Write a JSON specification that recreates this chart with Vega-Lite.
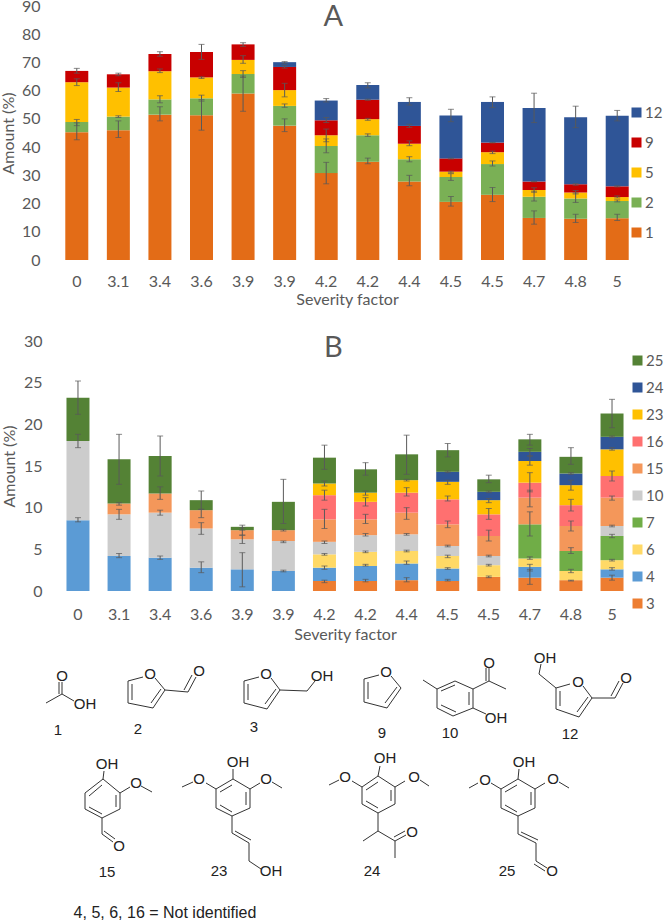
{"$schema":"https://vega.github.io/schema/vega-lite/v6.json","background":"white","padding":{"left":0,"top":-2,"right":0,"bottom":0},"spacing":81,"bounds":"flush",
"resolve":{"scale":{"color":"independent"},"legend":{"color":"independent"}},
"config":{"view":{"stroke":null},"font":"Lato"},
"datasets":{
"a":[
{"i":0,"c":1,"v":45.3,"lo":42.6,"hi":48.6},{"i":0,"c":2,"v":3.6,"lo":47.6,"hi":49.8},{"i":0,"c":5,"v":14.1,"lo":61.8,"hi":64.2},{"i":0,"c":9,"v":4,"lo":66.2,"hi":67.9},
{"i":1,"c":1,"v":46,"lo":43.4,"hi":49.3},{"i":1,"c":2,"v":4.8,"lo":50.5,"hi":51.1},{"i":1,"c":5,"v":10.3,"lo":59.7,"hi":62.8},{"i":1,"c":9,"v":4.7,"lo":65.3,"hi":66.2},
{"i":2,"c":1,"v":51.5,"lo":49.3,"hi":54.3},{"i":2,"c":2,"v":5.4,"lo":55.7,"hi":58.2},{"i":2,"c":5,"v":10,"lo":66.4,"hi":67.7},{"i":2,"c":9,"v":6.1,"lo":72.2,"hi":73.8},
{"i":3,"c":1,"v":51.3,"lo":46,"hi":56.8},{"i":3,"c":2,"v":6,"lo":56.3,"hi":58.4},{"i":3,"c":5,"v":7.4,"lo":64.3,"hi":64.9},{"i":3,"c":9,"v":9,"lo":71.1,"hi":76.4},
{"i":4,"c":1,"v":59,"lo":52.7,"hi":65.2},{"i":4,"c":2,"v":6.9,"lo":64.7,"hi":67.1},{"i":4,"c":5,"v":5,"lo":69.7,"hi":72.4},{"i":4,"c":9,"v":5.5,"lo":75.7,"hi":77},
{"i":5,"c":1,"v":47.6,"lo":45.5,"hi":50},{"i":5,"c":2,"v":7,"lo":54.1,"hi":55.3},{"i":5,"c":5,"v":5.6,"lo":57.8,"hi":62.6},{"i":5,"c":9,"v":8.2,"lo":68,"hi":69},{"i":5,"c":12,"v":1.7,"lo":69.7,"hi":70.3},
{"i":6,"c":1,"v":30.8,"lo":27,"hi":34.6},{"i":6,"c":2,"v":9.6,"lo":38,"hi":42.9},{"i":6,"c":5,"v":3.8,"lo":41.9,"hi":46.4},{"i":6,"c":9,"v":5.3,"lo":48.7,"hi":50.5},{"i":6,"c":12,"v":7,"lo":56,"hi":57.2},
{"i":7,"c":1,"v":34.8,"lo":34.1,"hi":36.1},{"i":7,"c":2,"v":9.4,"lo":43.8,"hi":44.7},{"i":7,"c":5,"v":5.7,"lo":49.5,"hi":50.2},{"i":7,"c":9,"v":6.9,"lo":56.6,"hi":57},{"i":7,"c":12,"v":5.2,"lo":61,"hi":62.8},
{"i":8,"c":1,"v":27.8,"lo":26.3,"hi":30},{"i":8,"c":2,"v":7.9,"lo":34.8,"hi":36.6},{"i":8,"c":5,"v":5.5,"lo":40.5,"hi":42.2},{"i":8,"c":9,"v":6.3,"lo":47,"hi":48.1},{"i":8,"c":12,"v":8.5,"lo":54.9,"hi":57.5},
{"i":9,"c":1,"v":20.6,"lo":19.1,"hi":22.5},{"i":9,"c":2,"v":8.8,"lo":28.2,"hi":30.6},{"i":9,"c":5,"v":1.9,"lo":30.9,"hi":31.5},{"i":9,"c":9,"v":4.7,"lo":35.8,"hi":36.1},{"i":9,"c":12,"v":15.2,"lo":49,"hi":53.4},
{"i":10,"c":1,"v":23.1,"lo":20.7,"hi":25.7},{"i":10,"c":2,"v":10.9,"lo":33.3,"hi":35.1},{"i":10,"c":5,"v":4.2,"lo":37.7,"hi":38.6},{"i":10,"c":9,"v":3.4,"lo":41.5,"hi":41.7},{"i":10,"c":12,"v":14.4,"lo":54,"hi":57.8},
{"i":11,"c":1,"v":14.9,"lo":12.7,"hi":17.4},{"i":11,"c":2,"v":7.5,"lo":20.9,"hi":24.4},{"i":11,"c":5,"v":2.4,"lo":24,"hi":25.6},{"i":11,"c":9,"v":3,"lo":27.7,"hi":27.9},{"i":11,"c":12,"v":26.1,"lo":48.7,"hi":59.1},
{"i":12,"c":1,"v":14.6,"lo":13.3,"hi":16.2},{"i":12,"c":2,"v":7.2,"lo":20.4,"hi":23.8},{"i":12,"c":5,"v":2.1,"lo":23.4,"hi":24.6},{"i":12,"c":9,"v":2.9,"lo":26.5,"hi":27.1},{"i":12,"c":12,"v":23.8,"lo":46.9,"hi":54.5},
{"i":13,"c":1,"v":14.8,"lo":14,"hi":16.2},{"i":13,"c":2,"v":6.1,"lo":20.6,"hi":21.3},{"i":13,"c":5,"v":1.4,"lo":22,"hi":22.7},{"i":13,"c":9,"v":3.8,"lo":25.9,"hi":26.3},{"i":13,"c":12,"v":25,"lo":49.3,"hi":53}
],
"b":[
{"i":0,"c":4,"v":8.5,"lo":8.3,"hi":8.8},{"i":0,"c":10,"v":9.5,"lo":17.2,"hi":18.8},{"i":0,"c":25,"v":5.2,"lo":21.2,"hi":25.2},
{"i":1,"c":4,"v":4.2,"lo":4,"hi":4.5},{"i":1,"c":10,"v":5,"lo":8.6,"hi":9.8},{"i":1,"c":15,"v":1.3,"lo":10.3,"hi":10.6},{"i":1,"c":25,"v":5.3,"lo":12.8,"hi":18.8},
{"i":2,"c":4,"v":4,"lo":3.8,"hi":4.2},{"i":2,"c":10,"v":5.4,"lo":9.1,"hi":9.7},{"i":2,"c":15,"v":2.3,"lo":11,"hi":12.5},{"i":2,"c":25,"v":4.5,"lo":13.8,"hi":18.6},
{"i":3,"c":4,"v":2.8,"lo":2.2,"hi":3.5},{"i":3,"c":10,"v":4.7,"lo":6.8,"hi":8.2},{"i":3,"c":15,"v":2.2,"lo":8.8,"hi":9.8},{"i":3,"c":25,"v":1.2,"lo":9.8,"hi":12},
{"i":4,"c":4,"v":2.6,"lo":0.5,"hi":4.6},{"i":4,"c":10,"v":3.6,"lo":5.7,"hi":6.7},{"i":4,"c":15,"v":1.1,"lo":6.7,"hi":7.6},{"i":4,"c":25,"v":0.4,"lo":7.3,"hi":7.9},
{"i":5,"c":4,"v":2.4,"lo":2.3,"hi":2.5},{"i":5,"c":10,"v":3.6,"lo":5.8,"hi":6},{"i":5,"c":15,"v":1.3,"lo":7.2,"hi":7.4},{"i":5,"c":25,"v":3.4,"lo":8.1,"hi":13.4},
{"i":6,"c":3,"v":1.2,"lo":1,"hi":1.3},{"i":6,"c":4,"v":1.6,"lo":2.6,"hi":3},{"i":6,"c":6,"v":1.6,"lo":4.3,"hi":4.5},{"i":6,"c":10,"v":1.5,"lo":5.7,"hi":6},{"i":6,"c":15,"v":2.7,"lo":7.5,"hi":9.8},{"i":6,"c":16,"v":2.9,"lo":10.9,"hi":12.1},{"i":6,"c":23,"v":1.4,"lo":12.6,"hi":13.2},{"i":6,"c":25,"v":3.1,"lo":14.6,"hi":17.5},
{"i":7,"c":3,"v":1.2,"lo":1.1,"hi":1.4},{"i":7,"c":4,"v":1.8,"lo":3,"hi":3.2},{"i":7,"c":6,"v":1.7,"lo":4.6,"hi":4.8},{"i":7,"c":10,"v":2,"lo":6.6,"hi":6.9},{"i":7,"c":15,"v":1.9,"lo":8.1,"hi":9.2},{"i":7,"c":16,"v":2.1,"lo":10.2,"hi":11.2},{"i":7,"c":23,"v":1.1,"lo":11.5,"hi":12},{"i":7,"c":25,"v":2.8,"lo":13.9,"hi":15.4},
{"i":8,"c":3,"v":1.3,"lo":1.1,"hi":1.6},{"i":8,"c":4,"v":2,"lo":3.2,"hi":3.6},{"i":8,"c":6,"v":1.5,"lo":4.7,"hi":4.9},{"i":8,"c":10,"v":2,"lo":6.7,"hi":6.9},{"i":8,"c":15,"v":2.6,"lo":8.6,"hi":10},{"i":8,"c":16,"v":2.4,"lo":11.4,"hi":12.4},{"i":8,"c":23,"v":1.5,"lo":13.2,"hi":13.4},{"i":8,"c":25,"v":3.1,"lo":14,"hi":18.7},
{"i":9,"c":3,"v":1.2,"lo":1.2,"hi":1.4},{"i":9,"c":4,"v":1.5,"lo":2.6,"hi":2.8},{"i":9,"c":6,"v":1.5,"lo":4,"hi":4.3},{"i":9,"c":10,"v":1.2,"lo":5.3,"hi":5.5},{"i":9,"c":15,"v":2.6,"lo":7.6,"hi":8.4},{"i":9,"c":16,"v":3,"lo":10.8,"hi":11.4},{"i":9,"c":23,"v":2.1,"lo":12.8,"hi":13.3},{"i":9,"c":24,"v":1.2,"lo":14.2,"hi":14.4},{"i":9,"c":25,"v":2.6,"lo":16.1,"hi":17.7},
{"i":10,"c":3,"v":1.7,"lo":1.6,"hi":1.8},{"i":10,"c":6,"v":1.4,"lo":3,"hi":3.2},{"i":10,"c":10,"v":1.1,"lo":4.1,"hi":4.3},{"i":10,"c":15,"v":2.4,"lo":6,"hi":7.3},{"i":10,"c":16,"v":2.6,"lo":8.6,"hi":9.9},{"i":10,"c":23,"v":1.7,"lo":10.6,"hi":11.1},{"i":10,"c":24,"v":1,"lo":11.8,"hi":12},{"i":10,"c":25,"v":1.5,"lo":13,"hi":13.9},
{"i":11,"c":3,"v":1.6,"lo":0.8,"hi":2.6},{"i":11,"c":4,"v":1.3,"lo":2.4,"hi":3.2},{"i":11,"c":6,"v":1,"lo":3.8,"hi":4.1},{"i":11,"c":7,"v":4.1,"lo":6.6,"hi":9.5},{"i":11,"c":15,"v":3.2,"lo":10.1,"hi":12.1},{"i":11,"c":16,"v":1.8,"lo":11.9,"hi":14.2},{"i":11,"c":23,"v":2.6,"lo":15.1,"hi":16.2},{"i":11,"c":24,"v":1.1,"lo":16.2,"hi":17.1},{"i":11,"c":25,"v":1.5,"lo":17.5,"hi":18.8},
{"i":12,"c":3,"v":1.3,"lo":1.2,"hi":1.3},{"i":12,"c":6,"v":1.1,"lo":2.2,"hi":2.6},{"i":12,"c":7,"v":2.4,"lo":4.5,"hi":5.2},{"i":12,"c":15,"v":3,"lo":7.2,"hi":8.4},{"i":12,"c":16,"v":2.5,"lo":9.6,"hi":11},{"i":12,"c":23,"v":2.4,"lo":12.1,"hi":13.3},{"i":12,"c":24,"v":1.4,"lo":14,"hi":14.2},{"i":12,"c":25,"v":2,"lo":15.2,"hi":17.2},
{"i":13,"c":3,"v":1.6,"lo":1.3,"hi":1.9},{"i":13,"c":4,"v":1,"lo":2.5,"hi":2.8},{"i":13,"c":6,"v":1.1,"lo":3.6,"hi":3.8},{"i":13,"c":7,"v":2.9,"lo":6.4,"hi":6.8},{"i":13,"c":10,"v":1.2,"lo":7.7,"hi":7.9},{"i":13,"c":15,"v":3.4,"lo":10.9,"hi":11.4},{"i":13,"c":16,"v":2.6,"lo":13.2,"hi":14.4},{"i":13,"c":23,"v":3.2,"lo":16.9,"hi":17.2},{"i":13,"c":24,"v":1.5,"lo":18.4,"hi":18.6},{"i":13,"c":25,"v":2.8,"lo":19.6,"hi":23}
],
"bonds":[
{"x":46,"y":702,"x2":62,"y2":693},{"x":62,"y":693,"x2":62,"y2":681},{"x":59,"y":693,"x2":59,"y2":681},{"x":62,"y":693,"x2":74,"y2":700},
{"x":143,"y":676,"x2":128,"y2":680},{"x":128,"y":680,"x2":128,"y2":702},{"x":132,"y":683,"x2":132,"y2":699},{"x":128,"y":702,"x2":153,"y2":707},{"x":153,"y":707,"x2":165,"y2":689},{"x":151,"y":702,"x2":161,"y2":688},{"x":165,"y":689,"x2":155,"y2":677},{"x":165,"y":689,"x2":188,"y2":691},{"x":188,"y":691,"x2":196,"y2":676},{"x":184,"y":689,"x2":192,"y2":674},
{"x":259,"y":676,"x2":244,"y2":680},{"x":244,"y":680,"x2":244,"y2":702},{"x":248,"y":683,"x2":248,"y2":699},{"x":244,"y":702,"x2":267,"y2":708},{"x":267,"y":708,"x2":280,"y2":689},{"x":265,"y":703,"x2":276,"y2":688},{"x":280,"y":689,"x2":271,"y2":677},{"x":280,"y":689,"x2":307,"y2":690},{"x":307,"y":690,"x2":315,"y2":680},
{"x":379,"y":674,"x2":364,"y2":678},{"x":364,"y":678,"x2":364,"y2":701},{"x":368,"y":681,"x2":368,"y2":698},{"x":364,"y":701,"x2":387,"y2":707},{"x":387,"y":707,"x2":401,"y2":687},{"x":385,"y":702,"x2":397,"y2":686},{"x":401,"y":687,"x2":391,"y2":675},
{"x":473,"y":688,"x2":473,"y2":707},{"x":469,"y":691,"x2":469,"y2":704},{"x":473,"y":707,"x2":453,"y2":715},{"x":453,"y":715,"x2":437,"y2":707},{"x":456,"y":711,"x2":441,"y2":704},{"x":437,"y":707,"x2":437,"y2":688},{"x":437,"y":688,"x2":455,"y2":680},{"x":441,"y":690,"x2":455,"y2":684},{"x":455,"y":680,"x2":473,"y2":688},{"x":437,"y":688,"x2":423,"y2":679},{"x":473,"y":688,"x2":489,"y2":680},{"x":489,"y":680,"x2":489,"y2":667},{"x":486,"y":680,"x2":486,"y2":667},{"x":489,"y":680,"x2":506,"y2":688},{"x":473,"y":707,"x2":486,"y2":713},
{"x":541,"y":663,"x2":539,"y2":673},{"x":539,"y":673,"x2":556,"y2":687},{"x":556,"y":687,"x2":570,"y2":683},{"x":556,"y":687,"x2":556,"y2":708},{"x":560,"y":690,"x2":560,"y2":705},{"x":556,"y":708,"x2":579,"y2":716},{"x":579,"y":716,"x2":592,"y2":697},{"x":577,"y":711,"x2":588,"y2":696},{"x":592,"y":697,"x2":583,"y2":685},{"x":592,"y":697,"x2":615,"y2":697},{"x":615,"y":697,"x2":623,"y2":682},{"x":611,"y":695,"x2":619,"y2":680},
{"x":104,"y":770,"x2":103,"y2":778},{"x":103,"y":778,"x2":120,"y2":792},{"x":120,"y":792,"x2":120,"y2":808},{"x":120,"y":808,"x2":102,"y2":817},{"x":102,"y":817,"x2":85,"y2":808},{"x":85,"y":808,"x2":85,"y2":792},{"x":85,"y":792,"x2":103,"y2":778},{"x":89,"y":795,"x2":102,"y2":784},{"x":116,"y":794,"x2":116,"y2":806},{"x":89,"y":806,"x2":102,"y2":813},{"x":120,"y":792,"x2":130,"y2":786},{"x":141,"y":785,"x2":152,"y2":791},{"x":102,"y":817,"x2":102,"y2":833},{"x":102,"y":833,"x2":113,"y2":841},{"x":104,"y":830,"x2":115,"y2":838},
{"x":233,"y":768,"x2":233,"y2":778},{"x":233,"y":778,"x2":250,"y2":788},{"x":250,"y":788,"x2":250,"y2":807},{"x":250,"y":807,"x2":232,"y2":815},{"x":232,"y":815,"x2":216,"y2":807},{"x":216,"y":807,"x2":216,"y2":788},{"x":216,"y":788,"x2":233,"y2":778},{"x":220,"y":791,"x2":232,"y2":784},{"x":246,"y":791,"x2":246,"y2":804},{"x":220,"y":804,"x2":232,"y2":811},{"x":250,"y":788,"x2":260,"y2":782},{"x":272,"y":781,"x2":282,"y2":787},{"x":216,"y":788,"x2":206,"y2":782},{"x":193,"y":781,"x2":182,"y2":786},{"x":232,"y":815,"x2":232,"y2":832},{"x":232,"y":832,"x2":249,"y2":842},{"x":235,"y":830,"x2":251,"y2":839},{"x":249,"y":842,"x2":249,"y2":860},{"x":249,"y":860,"x2":261,"y2":868},
{"x":380,"y":765,"x2":378,"y2":775},{"x":378,"y":775,"x2":395,"y2":786},{"x":395,"y":786,"x2":395,"y2":803},{"x":395,"y":803,"x2":378,"y2":812},{"x":378,"y":812,"x2":362,"y2":803},{"x":362,"y":803,"x2":362,"y2":786},{"x":362,"y":786,"x2":378,"y2":775},{"x":366,"y":789,"x2":378,"y2":781},{"x":391,"y":789,"x2":391,"y2":800},{"x":366,"y":800,"x2":378,"y2":807},{"x":395,"y":786,"x2":405,"y2":780},{"x":420,"y":779,"x2":429,"y2":785},{"x":362,"y":786,"x2":352,"y2":780},{"x":339,"y":779,"x2":329,"y2":784},{"x":378,"y":812,"x2":378,"y2":830},{"x":378,"y":830,"x2":363,"y2":840},{"x":378,"y":830,"x2":395,"y2":840},{"x":395,"y":840,"x2":406,"y2":834},{"x":394,"y":836,"x2":405,"y2":830},{"x":395,"y":840,"x2":395,"y2":857},
{"x":519,"y":768,"x2":518,"y2":778},{"x":518,"y":778,"x2":535,"y2":788},{"x":535,"y":788,"x2":535,"y2":807},{"x":535,"y":807,"x2":518,"y2":815},{"x":518,"y":815,"x2":501,"y2":807},{"x":501,"y":807,"x2":501,"y2":788},{"x":501,"y":788,"x2":518,"y2":778},{"x":505,"y":791,"x2":517,"y2":784},{"x":531,"y":791,"x2":531,"y2":804},{"x":505,"y":804,"x2":517,"y2":811},{"x":535,"y":788,"x2":545,"y2":782},{"x":559,"y":781,"x2":569,"y2":787},{"x":501,"y":788,"x2":491,"y2":782},{"x":478,"y":782,"x2":469,"y2":787},{"x":518,"y":815,"x2":518,"y2":833},{"x":518,"y":833,"x2":536,"y2":842},{"x":521,"y":831,"x2":538,"y2":839},{"x":536,"y":842,"x2":536,"y2":860},{"x":536,"y":860,"x2":547,"y2":867},{"x":534,"y":863,"x2":545,"y2":870}
],
"atoms":[
{"x":62,"y":675,"t":"O"},{"x":85,"y":703,"t":"OH"},{"x":150,"y":673,"t":"O"},{"x":199,"y":670,"t":"O"},{"x":266,"y":673,"t":"O"},{"x":322,"y":675,"t":"OH"},{"x":386,"y":671,"t":"O"},{"x":489,"y":662,"t":"O"},{"x":496,"y":717,"t":"OH"},{"x":545,"y":657,"t":"OH"},{"x":578,"y":681,"t":"O"},{"x":626,"y":677,"t":"O"},
{"x":107,"y":763,"t":"OH"},{"x":136,"y":782,"t":"O"},{"x":119,"y":845,"t":"O"},{"x":238,"y":761,"t":"OH"},{"x":266,"y":778,"t":"O"},{"x":199,"y":778,"t":"O"},{"x":271,"y":870,"t":"OH"},{"x":385,"y":757,"t":"OH"},{"x":414,"y":776,"t":"O"},{"x":345,"y":776,"t":"O"},{"x":412,"y":831,"t":"O"},{"x":524,"y":761,"t":"OH"},{"x":553,"y":778,"t":"O"},{"x":485,"y":779,"t":"O"},{"x":552,"y":870,"t":"O"},
{"x":58,"y":729,"t":"1"},{"x":138,"y":728,"t":"2"},{"x":254,"y":726,"t":"3"},{"x":382,"y":732,"t":"9"},{"x":450,"y":732,"t":"10"},{"x":570,"y":733,"t":"12"},{"x":107,"y":871,"t":"15"},{"x":219,"y":870,"t":"23"},{"x":372,"y":870,"t":"24"},{"x":507,"y":870,"t":"25"}
],
"note":[{"x":165,"y":912,"t":"4, 5, 6, 16 = Not identified"}]
},
"vconcat":[
{"width":582,"height":254,"data":{"name":"a"},
"encoding":{"x":{"field":"i","type":"ordinal","title":"Severity factor","scale":{"paddingInner":0.446,"paddingOuter":0.223},"axis":{"labelAngle":0,"domain":false,"ticks":false,"labelPadding":13,"titlePadding":2,"labelFontSize":16,"titleFontSize":16,"labelColor":"#595959","titleColor":"#595959","titleFontWeight":"normal","labelExpr":"['0','3.1','3.4','3.6','3.9','3.9','4.2','4.2','4.4','4.5','4.5','4.7','4.8','5'][datum.value]"}}},
"layer":[
{"mark":{"type":"bar","width":23},"encoding":{"y":{"field":"v","type":"quantitative","stack":"zero","title":"Amount (%)","scale":{"domain":[0,90]},"axis":{"values":[0,10,20,30,40,50,60,70,80,90],"tickCount":10,"labelOverlap":false,"grid":false,"domain":false,"ticks":false,"labelPadding":16,"titlePadding":5,"labelFontSize":16,"titleFontSize":16,"labelColor":"#595959","titleColor":"#595959","titleFontWeight":"normal"}},"order":{"field":"c","type":"quantitative"},"color":{"field":"c","type":"nominal","sort":null,"title":null,"scale":{"domain":[12,9,5,2,1],"range":["#2F5597","#C80000","#FFC000","#7AB055","#E36C17"]},"legend":{"orient":"none","legendX":573,"legendY":99,"symbolType":"square","symbolSize":100,"symbolStrokeWidth":0,"labelFontSize":15,"labelColor":"#595959","rowPadding":14,"labelOffset":1,"padding":0}}}},
{"mark":{"type":"rule","color":"#595959","strokeWidth":1},"encoding":{"y":{"field":"lo","type":"quantitative","axis":{"values":[0,10,20,30,40,50,60,70,80,90],"tickCount":10}},"y2":{"field":"hi"}}},
{"mark":{"type":"tick","color":"#595959","thickness":1,"size":6},"encoding":{"y":{"field":"lo","type":"quantitative","axis":{"values":[0,10,20,30,40,50,60,70,80,90],"tickCount":10}}}},
{"mark":{"type":"tick","color":"#595959","thickness":1,"size":6},"encoding":{"y":{"field":"hi","type":"quantitative","axis":{"values":[0,10,20,30,40,50,60,70,80,90],"tickCount":10}}}},
{"data":{"values":[{"i":6,"y":86,"t":"A"}]},"mark":{"type":"text","fontSize":29,"color":"#595959","dx":7},"encoding":{"y":{"field":"y","type":"quantitative","axis":{"values":[0,10,20,30,40,50,60,70,80,90],"tickCount":10}},"text":{"field":"t"}}}
]},
{"width":578,"height":250,"data":{"name":"b"},
"encoding":{"x":{"field":"i","type":"ordinal","title":"Severity factor","scale":{"paddingInner":0.44,"paddingOuter":0.255},"axis":{"labelAngle":0,"domain":false,"ticks":false,"labelPadding":15,"titlePadding":4,"labelFontSize":16,"titleFontSize":16,"labelColor":"#595959","titleColor":"#595959","titleFontWeight":"normal","labelExpr":"['0','3.1','3.4','3.6','3.9','3.9','4.2','4.2','4.4','4.5','4.5','4.7','4.8','5'][datum.value]"}}},
"layer":[
{"mark":{"type":"bar","width":23},"encoding":{"y":{"field":"v","type":"quantitative","stack":"zero","title":"Amount (%)","scale":{"domain":[0,30]},"axis":{"values":[0,5,10,15,20,25,30],"labelOverlap":false,"grid":false,"domain":false,"ticks":false,"labelPadding":14,"titlePadding":6,"labelFontSize":16,"titleFontSize":16,"labelColor":"#595959","titleColor":"#595959","titleFontWeight":"normal"}},"order":{"field":"c","type":"quantitative"},"color":{"field":"c","type":"nominal","sort":null,"title":null,"scale":{"domain":[25,24,23,16,15,10,7,6,4,3],"range":["#548235","#2F5597","#FFC000","#FF7070","#F4975A","#CCCCCC","#70AD47","#FFD966","#5B9BD5","#ED7D31"]},"legend":{"orient":"none","legendX":574,"legendY":12,"symbolType":"square","symbolSize":100,"symbolStrokeWidth":0,"labelFontSize":15,"labelColor":"#595959","rowPadding":11,"labelOffset":1,"padding":0}}}},
{"mark":{"type":"rule","color":"#595959","strokeWidth":1},"encoding":{"y":{"field":"lo","type":"quantitative"},"y2":{"field":"hi"}}},
{"mark":{"type":"tick","color":"#595959","thickness":1,"size":6},"encoding":{"y":{"field":"lo","type":"quantitative"}}},
{"mark":{"type":"tick","color":"#595959","thickness":1,"size":6},"encoding":{"y":{"field":"hi","type":"quantitative"}}},
{"data":{"values":[{"i":6,"y":29.2,"t":"B"}]},"mark":{"type":"text","fontSize":29,"color":"#595959","dx":9},"encoding":{"y":{"field":"y","type":"quantitative"},"text":{"field":"t"}}}
]},
{"width":610,"height":250,
"layer":[
{"data":{"name":"bonds"},"mark":{"type":"rule","color":"#333333","strokeWidth":1},"encoding":{"x":{"field":"x","type":"quantitative","scale":{"domain":[56,666],"nice":false,"zero":false},"axis":null},"y":{"field":"y","type":"quantitative","scale":{"domain":[921,671],"nice":false,"zero":false},"axis":null},"x2":{"field":"x2"},"y2":{"field":"y2"}}},
{"data":{"name":"atoms"},"mark":{"type":"text","font":"Liberation Sans","fontSize":15,"color":"#222222"},"encoding":{"x":{"field":"x","type":"quantitative"},"y":{"field":"y","type":"quantitative"},"text":{"field":"t"}}},
{"data":{"name":"note"},"mark":{"type":"text","font":"Liberation Sans","fontSize":16,"color":"#222222"},"encoding":{"x":{"field":"x","type":"quantitative"},"y":{"field":"y","type":"quantitative"},"text":{"field":"t"}}}
]}
]}
